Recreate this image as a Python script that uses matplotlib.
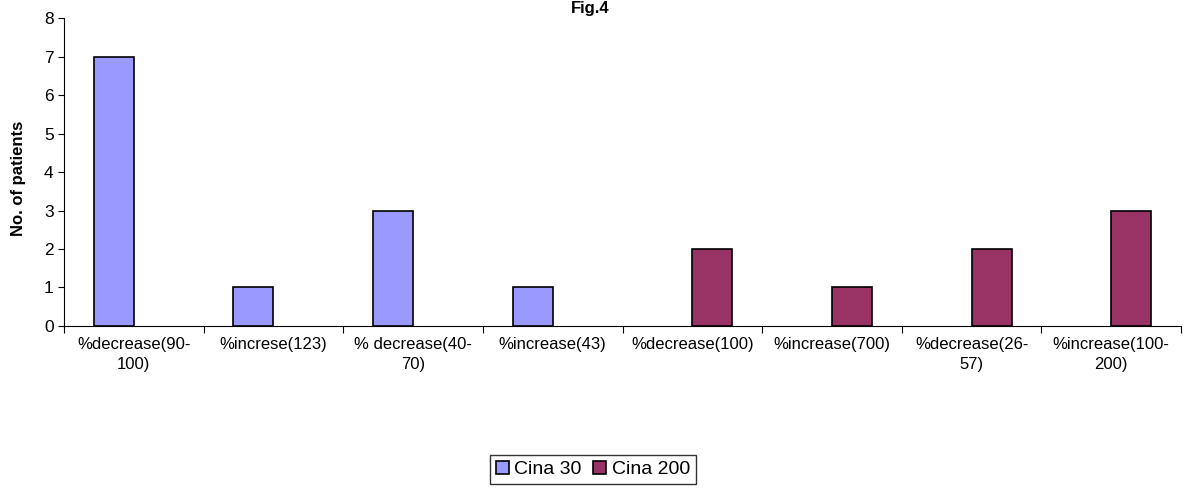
import matplotlib.pyplot as plt
import numpy as np

plt.rcParams['font.family'] = ['Liberation Sans', 'DejaVu Sans']

categories = ['%decrease(90-\n100)', '%increse(123)', '% decrease(40-\n70)',
              '%increase(43)', '%decrease(100)', '%increase(700)',
              '%decrease(26-\n57)', '%increase(100-\n200)']
cina30 = [7, 1, 3, 1, 0, 0, 0, 0]
cina200 = [0, 0, 0, 0, 2, 1, 2, 3]

fig = plt.figure(figsize=(11.86, 4.88), dpi=100)
ax = fig.add_axes([0.054, 0.332, 0.9418, 0.631])

x = np.arange(len(categories))
w = 0.287


def draw_series(offset, values, color, label):
    # empty groups get no bar at all (a zero-height bar would leave an edge line)
    vals = np.array(values, dtype=float)
    keep = vals > 0
    ax.bar(x[keep] + offset, vals[keep], w, color=color, edgecolor='black',
           linewidth=1.2, label=label)


draw_series(-w / 2, cina30, '#9999FF', 'Cina 30')
draw_series(w / 2, cina200, '#993366', 'Cina 200')

ax.set_xlim(-0.5, len(categories) - 0.5)
ax.set_ylim(0, 8)
ax.set_yticks(range(0, 9))
ax.tick_params(axis='y', labelsize=12.5, length=4, direction='out')

# category labels between the boundary ticks
ax.set_xticks(np.arange(-0.5, len(categories)), minor=False)
ax.set_xticklabels([])
ax.set_xticks(x, minor=True)
ax.set_xticklabels(categories, minor=True, fontsize=12, linespacing=1.45)
ax.tick_params(axis='x', which='major', length=5, direction='out')
ax.tick_params(axis='x', which='minor', length=0, pad=8)

for s in ['top', 'right']:
    ax.spines[s].set_visible(False)

ax.set_ylabel('No. of patients', fontsize=12, fontweight='bold')
ax.yaxis.set_label_coords(-0.034, 0.48)

# title sits right at the top edge of the figure
fig.text(0.4975, 0.974, 'Fig.4', fontsize=12, fontweight='bold',
         ha='center', va='baseline')

leg = fig.legend(loc='center', bbox_to_anchor=(0.5, 0.038), ncol=2, fontsize=14,
                 frameon=True, fancybox=False, edgecolor='black', handlelength=0.65,
                 handleheight=0.65, handletextpad=0.3, columnspacing=0.6, borderpad=0.3)
leg.get_frame().set_linewidth(1.0)

fig.savefig('out.png', dpi=100)
